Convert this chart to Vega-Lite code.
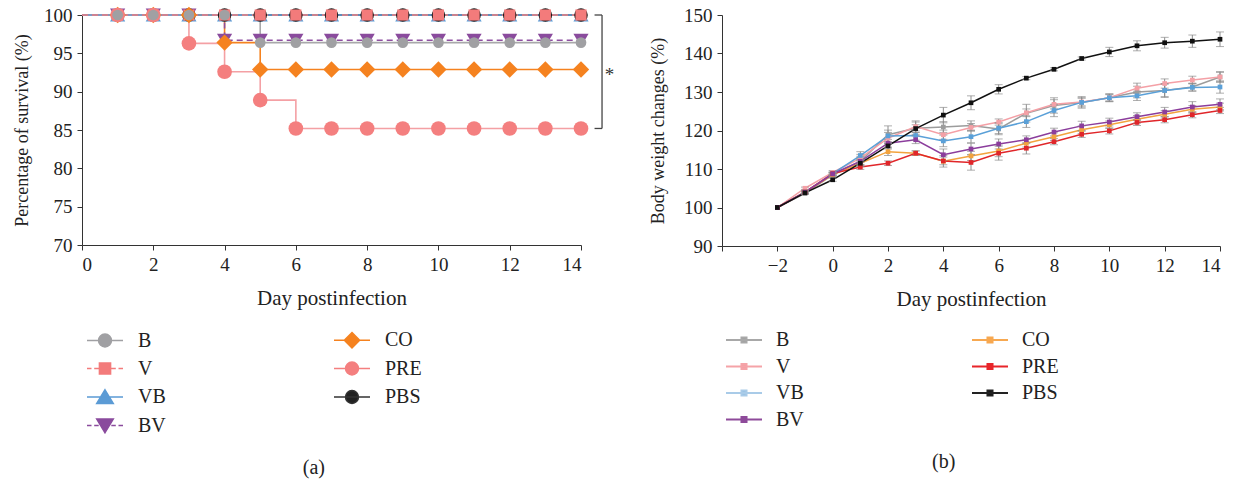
{
  "$schema": "https://vega.github.io/schema/vega-lite/v6.json",
  "padding": {"left": 13, "top": 6, "right": 3, "bottom": 5},
  "spacing": 34,
  "datasets": {
    "surv": [
      {"g":"PBS","day":0,"pct":100},{"g":"PBS","day":1,"pct":100},{"g":"PBS","day":2,"pct":100},{"g":"PBS","day":3,"pct":100},{"g":"PBS","day":4,"pct":100},{"g":"PBS","day":5,"pct":100},{"g":"PBS","day":6,"pct":100},{"g":"PBS","day":7,"pct":100},{"g":"PBS","day":8,"pct":100},{"g":"PBS","day":9,"pct":100},{"g":"PBS","day":10,"pct":100},{"g":"PBS","day":11,"pct":100},{"g":"PBS","day":12,"pct":100},{"g":"PBS","day":13,"pct":100},{"g":"PBS","day":14,"pct":100},
      {"g":"B","day":0,"pct":100},{"g":"B","day":1,"pct":100},{"g":"B","day":2,"pct":100},{"g":"B","day":3,"pct":100},{"g":"B","day":4,"pct":100},{"g":"B","day":5,"pct":96.4},{"g":"B","day":6,"pct":96.4},{"g":"B","day":7,"pct":96.4},{"g":"B","day":8,"pct":96.4},{"g":"B","day":9,"pct":96.4},{"g":"B","day":10,"pct":96.4},{"g":"B","day":11,"pct":96.4},{"g":"B","day":12,"pct":96.4},{"g":"B","day":13,"pct":96.4},{"g":"B","day":14,"pct":96.4},
      {"g":"CO","day":0,"pct":100},{"g":"CO","day":1,"pct":100},{"g":"CO","day":2,"pct":100},{"g":"CO","day":3,"pct":100},{"g":"CO","day":4,"pct":96.4},{"g":"CO","day":5,"pct":92.9},{"g":"CO","day":6,"pct":92.9},{"g":"CO","day":7,"pct":92.9},{"g":"CO","day":8,"pct":92.9},{"g":"CO","day":9,"pct":92.9},{"g":"CO","day":10,"pct":92.9},{"g":"CO","day":11,"pct":92.9},{"g":"CO","day":12,"pct":92.9},{"g":"CO","day":13,"pct":92.9},{"g":"CO","day":14,"pct":92.9},
      {"g":"PRE","day":0,"pct":100},{"g":"PRE","day":1,"pct":100},{"g":"PRE","day":2,"pct":100},{"g":"PRE","day":3,"pct":96.3},{"g":"PRE","day":4,"pct":92.6},{"g":"PRE","day":5,"pct":88.9},{"g":"PRE","day":6,"pct":85.2},{"g":"PRE","day":7,"pct":85.2},{"g":"PRE","day":8,"pct":85.2},{"g":"PRE","day":9,"pct":85.2},{"g":"PRE","day":10,"pct":85.2},{"g":"PRE","day":11,"pct":85.2},{"g":"PRE","day":12,"pct":85.2},{"g":"PRE","day":13,"pct":85.2},{"g":"PRE","day":14,"pct":85.2},
      {"g":"BV","day":0,"pct":100},{"g":"BV","day":1,"pct":100},{"g":"BV","day":2,"pct":100},{"g":"BV","day":3,"pct":100},{"g":"BV","day":4,"pct":96.7},{"g":"BV","day":5,"pct":96.7},{"g":"BV","day":6,"pct":96.7},{"g":"BV","day":7,"pct":96.7},{"g":"BV","day":8,"pct":96.7},{"g":"BV","day":9,"pct":96.7},{"g":"BV","day":10,"pct":96.7},{"g":"BV","day":11,"pct":96.7},{"g":"BV","day":12,"pct":96.7},{"g":"BV","day":13,"pct":96.7},{"g":"BV","day":14,"pct":96.7},
      {"g":"VB","day":0,"pct":100},{"g":"VB","day":1,"pct":100},{"g":"VB","day":2,"pct":100},{"g":"VB","day":3,"pct":100},{"g":"VB","day":4,"pct":100},{"g":"VB","day":5,"pct":100},{"g":"VB","day":6,"pct":100},{"g":"VB","day":7,"pct":100},{"g":"VB","day":8,"pct":100},{"g":"VB","day":9,"pct":100},{"g":"VB","day":10,"pct":100},{"g":"VB","day":11,"pct":100},{"g":"VB","day":12,"pct":100},{"g":"VB","day":13,"pct":100},{"g":"VB","day":14,"pct":100},
      {"g":"V","day":0,"pct":100},{"g":"V","day":1,"pct":100},{"g":"V","day":2,"pct":100},{"g":"V","day":3,"pct":100},{"g":"V","day":4,"pct":100},{"g":"V","day":5,"pct":100},{"g":"V","day":6,"pct":100},{"g":"V","day":7,"pct":100},{"g":"V","day":8,"pct":100},{"g":"V","day":9,"pct":100},{"g":"V","day":10,"pct":100},{"g":"V","day":11,"pct":100},{"g":"V","day":12,"pct":100},{"g":"V","day":13,"pct":100},{"g":"V","day":14,"pct":100}
    ],
    "weight": [
      {"g":"B","day":-2,"v":100,"err":0},{"g":"B","day":-1,"v":103.7,"err":0.3},{"g":"B","day":0,"v":108.5,"err":0.5},{"g":"B","day":1,"v":112.0,"err":1.3},{"g":"B","day":2,"v":118.9,"err":2.3},{"g":"B","day":3,"v":120.6,"err":1.6},{"g":"B","day":4,"v":120.9,"err":1.4},{"g":"B","day":5,"v":121.3,"err":1.2},{"g":"B","day":6,"v":120.4,"err":1.5},{"g":"B","day":7,"v":124.5,"err":2.3},{"g":"B","day":8,"v":126.5,"err":2.0},{"g":"B","day":9,"v":127.3,"err":1.5},{"g":"B","day":10,"v":128.5,"err":1.0},{"g":"B","day":11,"v":130.0,"err":1.5},{"g":"B","day":12,"v":130.4,"err":1.8},{"g":"B","day":13,"v":131.3,"err":1.0},{"g":"B","day":14,"v":133.9,"err":1.2},
      {"g":"V","day":-2,"v":100,"err":0},{"g":"V","day":-1,"v":105.0,"err":0.3},{"g":"V","day":0,"v":109.1,"err":0.5},{"g":"V","day":1,"v":112.8,"err":1.0},{"g":"V","day":2,"v":118.0,"err":1.5},{"g":"V","day":3,"v":121.0,"err":1.5},{"g":"V","day":4,"v":118.9,"err":1.2},{"g":"V","day":5,"v":120.8,"err":1.0},{"g":"V","day":6,"v":122.2,"err":0.8},{"g":"V","day":7,"v":124.6,"err":1.0},{"g":"V","day":8,"v":126.8,"err":1.2},{"g":"V","day":9,"v":127.4,"err":1.0},{"g":"V","day":10,"v":128.5,"err":0.8},{"g":"V","day":11,"v":131.0,"err":1.3},{"g":"V","day":12,"v":132.2,"err":1.2},{"g":"V","day":13,"v":133.1,"err":1.0},{"g":"V","day":14,"v":133.9,"err":1.4},
      {"g":"VB","day":-2,"v":100,"err":0},{"g":"VB","day":-1,"v":104.0,"err":0.3},{"g":"VB","day":0,"v":108.8,"err":0.4},{"g":"VB","day":1,"v":113.5,"err":1.0},{"g":"VB","day":2,"v":118.6,"err":1.5},{"g":"VB","day":3,"v":118.7,"err":1.2},{"g":"VB","day":4,"v":117.3,"err":1.5},{"g":"VB","day":5,"v":118.4,"err":1.6},{"g":"VB","day":6,"v":120.6,"err":1.4},{"g":"VB","day":7,"v":122.3,"err":1.5},{"g":"VB","day":8,"v":125.2,"err":1.6},{"g":"VB","day":9,"v":127.3,"err":1.2},{"g":"VB","day":10,"v":128.5,"err":1.0},{"g":"VB","day":11,"v":129.0,"err":1.2},{"g":"VB","day":12,"v":130.4,"err":1.6},{"g":"VB","day":13,"v":131.2,"err":1.0},{"g":"VB","day":14,"v":131.3,"err":1.6},
      {"g":"CO","day":-2,"v":100,"err":0},{"g":"CO","day":-1,"v":104.0,"err":0.3},{"g":"CO","day":0,"v":108.5,"err":0.4},{"g":"CO","day":1,"v":111.5,"err":0.8},{"g":"CO","day":2,"v":114.5,"err":1.0},{"g":"CO","day":3,"v":114.1,"err":0.6},{"g":"CO","day":4,"v":112.0,"err":1.5},{"g":"CO","day":5,"v":113.4,"err":1.2},{"g":"CO","day":6,"v":114.7,"err":1.5},{"g":"CO","day":7,"v":116.7,"err":1.0},{"g":"CO","day":8,"v":118.4,"err":1.0},{"g":"CO","day":9,"v":120.2,"err":1.0},{"g":"CO","day":10,"v":121.5,"err":1.0},{"g":"CO","day":11,"v":122.9,"err":1.0},{"g":"CO","day":12,"v":124.2,"err":1.0},{"g":"CO","day":13,"v":125.5,"err":1.0},{"g":"CO","day":14,"v":126.1,"err":1.0},
      {"g":"PRE","day":-2,"v":100,"err":0},{"g":"PRE","day":-1,"v":104.0,"err":0.3},{"g":"PRE","day":0,"v":108.8,"err":0.4},{"g":"PRE","day":1,"v":110.5,"err":0.6},{"g":"PRE","day":2,"v":111.5,"err":0.6},{"g":"PRE","day":3,"v":114.1,"err":0.6},{"g":"PRE","day":4,"v":112.1,"err":1.0},{"g":"PRE","day":5,"v":111.7,"err":2.0},{"g":"PRE","day":6,"v":114.1,"err":1.8},{"g":"PRE","day":7,"v":115.4,"err":1.5},{"g":"PRE","day":8,"v":117.1,"err":0.8},{"g":"PRE","day":9,"v":119.0,"err":0.8},{"g":"PRE","day":10,"v":119.9,"err":0.8},{"g":"PRE","day":11,"v":122.1,"err":0.8},{"g":"PRE","day":12,"v":122.8,"err":0.8},{"g":"PRE","day":13,"v":124.1,"err":0.8},{"g":"PRE","day":14,"v":125.2,"err":0.8},
      {"g":"BV","day":-2,"v":100,"err":0},{"g":"BV","day":-1,"v":104.0,"err":0.3},{"g":"BV","day":0,"v":108.7,"err":0.4},{"g":"BV","day":1,"v":112.0,"err":0.8},{"g":"BV","day":2,"v":116.7,"err":1.0},{"g":"BV","day":3,"v":117.6,"err":1.0},{"g":"BV","day":4,"v":113.7,"err":1.5},{"g":"BV","day":5,"v":115.2,"err":1.5},{"g":"BV","day":6,"v":116.5,"err":1.3},{"g":"BV","day":7,"v":117.6,"err":1.0},{"g":"BV","day":8,"v":119.6,"err":1.0},{"g":"BV","day":9,"v":121.2,"err":1.2},{"g":"BV","day":10,"v":122.2,"err":1.0},{"g":"BV","day":11,"v":123.6,"err":1.0},{"g":"BV","day":12,"v":124.8,"err":1.2},{"g":"BV","day":13,"v":126.1,"err":1.4},{"g":"BV","day":14,"v":126.8,"err":1.4},
      {"g":"PBS","day":-2,"v":100,"err":0},{"g":"PBS","day":-1,"v":103.8,"err":0.3},{"g":"PBS","day":0,"v":107.2,"err":0.4},{"g":"PBS","day":1,"v":111.5,"err":0.6},{"g":"PBS","day":2,"v":116.0,"err":0.8},{"g":"PBS","day":3,"v":120.5,"err":1.0},{"g":"PBS","day":4,"v":124.0,"err":2.0},{"g":"PBS","day":5,"v":127.2,"err":1.8},{"g":"PBS","day":6,"v":130.7,"err":1.2},{"g":"PBS","day":7,"v":133.6,"err":0.4},{"g":"PBS","day":8,"v":135.9,"err":0.4},{"g":"PBS","day":9,"v":138.7,"err":0.4},{"g":"PBS","day":10,"v":140.4,"err":1.2},{"g":"PBS","day":11,"v":142.0,"err":1.3},{"g":"PBS","day":12,"v":142.8,"err":1.4},{"g":"PBS","day":13,"v":143.2,"err":1.6},{"g":"PBS","day":14,"v":143.7,"err":1.9}
    ]
  },
  "hconcat": [
    {
      "width": 499,
      "height": 230,
      "title": {"text": "(a)", "orient": "bottom", "frame": "bounds", "offset": 22, "fontSize": 20, "fontWeight": "normal", "font": "Liberation Serif", "color": "#222"},
      "data": {"name": "surv"},
      "encoding": {
        "x": {"field": "day", "type": "quantitative", "scale": {"domain": [0, 14], "nice": false},
              "axis": {"values": [0, 2, 4, 6, 8, 10, 12, 14], "title": "Day postinfection", "titlePadding": 13}},
        "y": {"field": "pct", "type": "quantitative", "scale": {"domain": [70, 100], "nice": false},
              "axis": {"values": [70, 75, 80, 85, 90, 95, 100], "title": "Percentage of survival (%)", "titlePadding": 12, "titleFontSize": 18}}
      },
      "layer": [
        {
          "mark": {"type": "line", "interpolate": "step-after", "strokeWidth": 1.6},
          "encoding": {
            "color": {"field": "g", "type": "nominal", "legend": null,
              "scale": {"domain": ["PBS", "B", "CO", "PRE", "BV", "VB", "V"],
                        "range": ["#333333", "#a8a8aa", "#f5821f", "#f4a0a4", "#8e4fa0", "#5b9bd5", "#f07f80"]}},
            "strokeDash": {"field": "g", "type": "nominal", "legend": null,
              "scale": {"domain": ["PBS", "B", "CO", "PRE", "BV", "VB", "V"],
                        "range": [[1, 0], [1, 0], [1, 0], [1, 0], [6, 4], [1, 0], [6, 4]]}}
          }
        },
        {"transform": [{"filter": {"and": [{"field": "g", "equal": "BV"}, {"field": "day", "gt": 0}]}}],
         "mark": {"type": "point", "shape": "triangle-down", "filled": true, "opacity": 1, "size": 230, "color": "#8a4b9d"}},
        {"transform": [{"filter": {"and": [{"field": "g", "equal": "VB"}, {"field": "day", "gt": 0}]}}],
         "mark": {"type": "point", "shape": "triangle-up", "filled": true, "opacity": 1, "size": 230, "color": "#5b9bd5"}},
        {"transform": [{"filter": {"and": [{"field": "g", "equal": "PBS"}, {"field": "day", "gt": 0}]}}],
         "mark": {"type": "point", "shape": "circle", "filled": true, "opacity": 1, "size": 185, "color": "#1c1c1c"}},
        {"transform": [{"filter": {"and": [{"field": "g", "equal": "V"}, {"field": "day", "gt": 0}]}}],
         "mark": {"type": "point", "shape": "square", "filled": true, "opacity": 1, "size": 125, "color": "#f37b7b"}},
        {"transform": [{"filter": {"and": [{"field": "g", "equal": "CO"}, {"field": "day", "gt": 0}]}}],
         "mark": {"type": "point", "shape": "diamond", "filled": true, "opacity": 1, "size": 270, "color": "#f5821f"}},
        {"transform": [{"filter": {"and": [{"field": "g", "equal": "PRE"}, {"field": "day", "gt": 0}]}}],
         "mark": {"type": "point", "shape": "circle", "filled": true, "opacity": 1, "size": 215, "color": "#f47f7f"}},
        {"transform": [{"filter": {"and": [{"field": "g", "equal": "B"}, {"field": "day", "gt": 0}]}}],
         "mark": {"type": "point", "shape": "circle", "filled": true, "opacity": 1, "size": 115, "color": "#a0a0a3"}},
        {
          "data": {"values": [{"day": 14.59, "pct": 100, "pct2": 85.2}]},
          "mark": {"type": "rule", "color": "#444", "strokeWidth": 1.3},
          "encoding": {"y2": {"field": "pct2"}}
        },
        {
          "data": {"values": [{"day": 14.38, "day2": 14.59, "pct": 100}, {"day": 14.38, "day2": 14.59, "pct": 85.2}]},
          "mark": {"type": "rule", "color": "#444", "strokeWidth": 1.3},
          "encoding": {"x2": {"field": "day2"}}
        },
        {
          "data": {"values": [{"day": 14.8, "pct": 92.6, "label": "*"}]},
          "mark": {"type": "text", "font": "Liberation Serif", "fontSize": 19, "color": "#333", "dy": 3},
          "encoding": {"text": {"field": "label"}}
        },
        {
          "mark": {"type": "point", "filled": true, "opacity": 0, "strokeWidth": 1.5, "size": 324},
          "encoding": {
            "shape": {"field": "g", "type": "nominal",
              "scale": {"domain": ["B", "V", "VB", "BV", "CO", "PRE", "PBS"],
                "range": [
                  "M-2,0H2M0.72,0A0.72,0.72,0,1,1,-0.72,0A0.72,0.72,0,1,1,0.72,0Z",
                  "M-2,0H-1.5M-1.2,0H-0.7M0.7,0H1.2M1.5,0H2M-0.62,-0.62H0.62V0.62H-0.62Z",
                  "M-2,0H2M0,-0.8L0.92,0.72H-0.92Z",
                  "M-2,0H-1.5M-1.2,0H-0.7M0.7,0H1.2M1.5,0H2M0,0.8L0.92,-0.72H-0.92Z",
                  "M-2,0H2M0,-0.85L0.85,0L0,0.85L-0.85,0Z",
                  "M-2,0H2M0.72,0A0.72,0.72,0,1,1,-0.72,0A0.72,0.72,0,1,1,0.72,0Z",
                  "M-2,0H2M0.72,0A0.72,0.72,0,1,1,-0.72,0A0.72,0.72,0,1,1,0.72,0Z"
                ]},
              "legend": {"title": null, "orient": "none", "legendX": 4, "legendY": 315, "columns": 2, "padding": 0,
                "symbolSize": 324, "symbolOffset": 9, "symbolStrokeWidth": 1.5, "labelOffset": 23,
                "labelFont": "Liberation Serif", "labelFontSize": 20, "labelColor": "#222",
                "rowPadding": 6.5, "columnPadding": 156, "gridAlign": "all", "symbolOpacity": 1,
                "encode": {"symbols": {"update": {"opacity": {"value": 1}}}}}},
            "fill": {"field": "g", "type": "nominal",
              "scale": {"domain": ["B", "V", "VB", "BV", "CO", "PRE", "PBS"],
                        "range": ["#a0a0a3", "#f37b7b", "#5b9bd5", "#8a4b9d", "#f5821f", "#f47f7f", "#222222"]}},
            "stroke": {"field": "g", "type": "nominal",
              "scale": {"domain": ["B", "V", "VB", "BV", "CO", "PRE", "PBS"],
                        "range": ["#a0a0a3", "#f37b7b", "#5b9bd5", "#8a4b9d", "#f5821f", "#f47f7f", "#333333"]}}
          }
        }
      ]
    },
    {
      "width": 498,
      "height": 231,
      "title": {"text": "(b)", "orient": "bottom", "frame": "bounds", "offset": 22, "fontSize": 20, "fontWeight": "normal", "font": "Liberation Serif", "color": "#222"},
      "data": {"name": "weight"},
      "encoding": {
        "x": {"field": "day", "type": "quantitative", "scale": {"domain": [-4, 14], "nice": false},
              "axis": {"values": [-4, -2, 0, 2, 4, 6, 8, 10, 12, 14], "labelExpr": "datum.value == -4 ? '' : datum.label", "title": "Day postinfection", "titlePadding": 13}},
        "y": {"field": "v", "type": "quantitative", "scale": {"domain": [90, 150], "nice": false},
              "axis": {"values": [90, 100, 110, 120, 130, 140, 150], "title": "Body weight changes (%)", "titlePadding": 16, "titleFontSize": 18}}
      },
      "layer": [
        {
          "mark": {"type": "line", "strokeWidth": 1.5},
          "encoding": {
            "color": {"field": "g", "type": "nominal", "legend": null,
              "scale": {"domain": ["PBS", "B", "V", "VB", "BV", "CO", "PRE"],
                        "range": ["#111111", "#9c9c9c", "#f4a0a6", "#5aa0d8", "#8b3d9c", "#f2a33e", "#e0262a"]}}
          }
        },
        {
          "transform": [{"filter": "datum.err > 0"}],
          "mark": {"type": "errorbar", "color": "#8c8c8c", "ticks": {"size": 8, "color": "#8c8c8c"}, "thickness": 1},
          "encoding": {"yError": {"field": "err"}}
        },
        {
          "mark": {"type": "point", "shape": "square", "filled": true, "opacity": 1, "size": 22},
          "encoding": {"color": {"field": "g", "type": "nominal", "legend": null}}
        },
        {
          "mark": {"type": "point", "filled": true, "opacity": 0, "strokeWidth": 2, "size": 324},
          "encoding": {
            "shape": {"field": "g", "type": "nominal",
              "scale": {"domain": ["B", "V", "VB", "BV", "CO", "PRE", "PBS"],
                "range": [
                  "M-2,0H2M-0.28,-0.28H0.28V0.28H-0.28Z",
                  "M-2,0H2M-0.28,-0.28H0.28V0.28H-0.28Z",
                  "M-2,0H2M-0.28,-0.28H0.28V0.28H-0.28Z",
                  "M-2,0H2M-0.28,-0.28H0.28V0.28H-0.28Z",
                  "M-2,0H2M-0.28,-0.28H0.28V0.28H-0.28Z",
                  "M-2,0H2M-0.28,-0.28H0.28V0.28H-0.28Z",
                  "M-2,0H2M-0.28,-0.28H0.28V0.28H-0.28Z"
                ]},
              "legend": {"title": null, "orient": "none", "legendX": 3, "legendY": 315, "columns": 2, "padding": 0,
                "symbolSize": 324, "symbolOffset": 9, "symbolStrokeWidth": 2, "labelOffset": 22,
                "labelFont": "Liberation Serif", "labelFontSize": 20, "labelColor": "#222",
                "rowPadding": 6.5, "columnPadding": 155, "gridAlign": "all", "symbolOpacity": 1,
                "encode": {"symbols": {"update": {"opacity": {"value": 1}}}}}},
            "fill": {"field": "g", "type": "nominal",
              "scale": {"domain": ["B", "V", "VB", "BV", "CO", "PRE", "PBS"],
                        "range": ["#9e9e9e", "#f29ca3", "#8fbde0", "#8e4a9c", "#f6a54f", "#e8262b", "#111111"]}},
            "stroke": {"field": "g", "type": "nominal",
              "scale": {"domain": ["B", "V", "VB", "BV", "CO", "PRE", "PBS"],
                        "range": ["#a8a8a8", "#f5a3a8", "#a9cbe8", "#8e4a9a", "#f7a850", "#e8252a", "#222222"]}}
          }
        }
      ]
    }
  ],
  "resolve": {
    "scale": {"color": "independent", "fill": "independent", "stroke": "independent", "shape": "independent", "strokeDash": "independent"},
    "legend": {"fill": "independent", "stroke": "independent", "shape": "independent", "color": "independent"}
  },
  "config": {
    "font": "Liberation Serif",
    "view": {"stroke": null},
    "axis": {
      "grid": false,
      "domainColor": "#333",
      "tickColor": "#333",
      "tickSize": 5,
      "labelPadding": 5,
      "labelFont": "Liberation Serif",
      "labelFontSize": 19,
      "labelColor": "#222",
      "titleFont": "Liberation Serif",
      "titleFontSize": 21,
      "titleFontWeight": "normal",
      "titleColor": "#222"
    }
  }
}
